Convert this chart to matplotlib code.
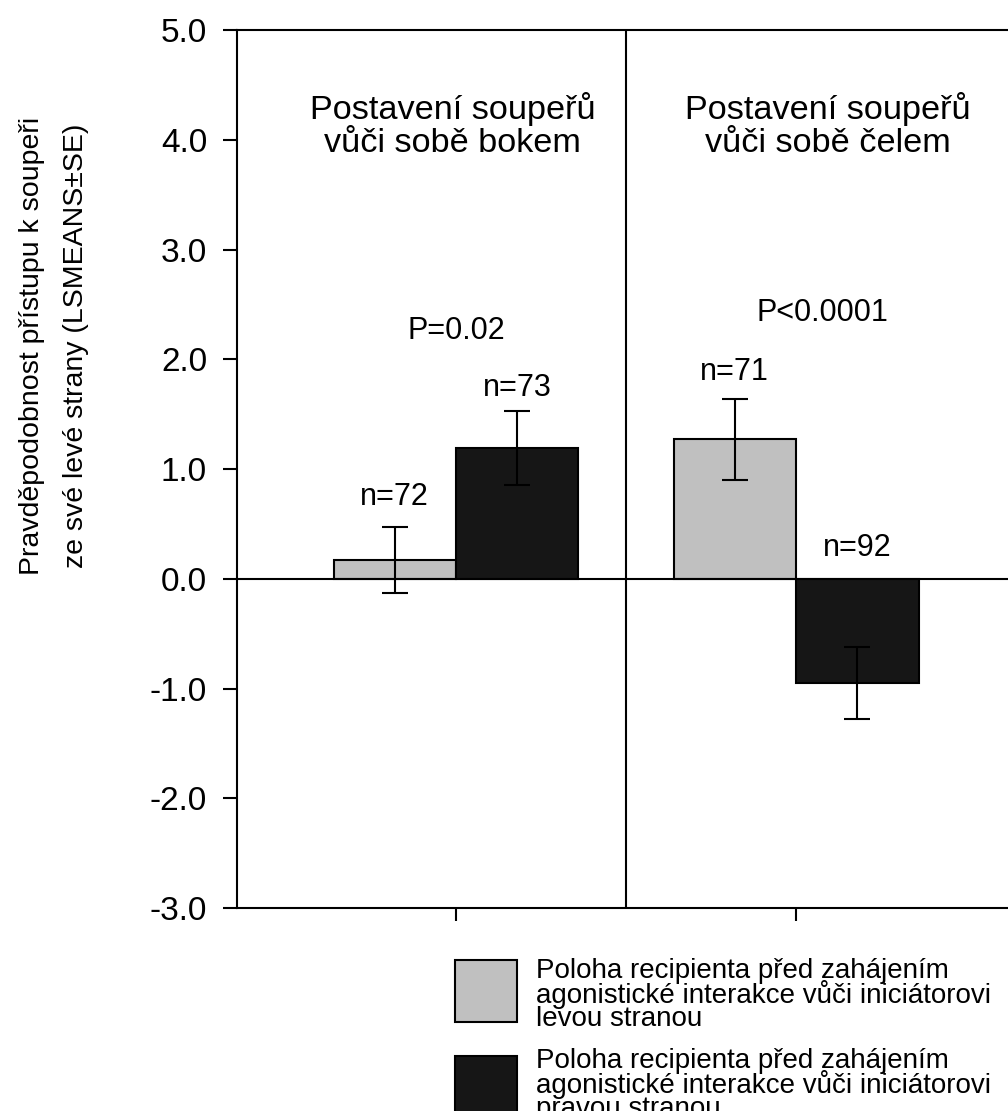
import numpy as np
import matplotlib
matplotlib.use("Agg")
import matplotlib.pyplot as plt
from matplotlib.patches import Rectangle

plt.rcParams['font.family'] = ['Liberation Sans', 'DejaVu Sans']
plt.rcParams['axes.unicode_minus'] = False

# LSMEANS +- SE for the two opponent positions
groups = ['Postavení soupeřů\nvůči sobě bokem', 'Postavení soupeřů\nvůči sobě čelem']
left_means = [0.17, 1.27]     # recipient on the left side
left_se = [0.30, 0.37]
right_means = [1.19, -0.95]   # recipient on the right side
right_se = [0.335, 0.325]
left_n = ['n=72', 'n=71']
right_n = ['n=73', 'n=92']
p_values = ['P=0.02', 'P<0.0001']
legend_labels = ['Poloha recipienta před zahájením\nagonistické interakce vůči iniciátorovi\nlevou stranou',
                 'Poloha recipienta před zahájením\nagonistické interakce vůči iniciátorovi\npravou stranou']

fig = plt.figure(figsize=(10.08, 11.11), dpi=100)
ax = fig.add_axes([0.2351, 0.1827, 0.772, 0.7903])

x = np.array([1, 2])
w = 0.36
gray = '#c0c0c0'
black = '#161616'
err_kw = dict(ecolor='black', elinewidth=1.5, capsize=9.5, capthick=1.5)

ax.bar(x - w / 2, left_means, w, yerr=left_se, color=gray, edgecolor='black',
       linewidth=1.5, error_kw=err_kw, zorder=2)
ax.bar(x + w / 2, right_means, w, yerr=right_se, color=black, edgecolor='black',
       linewidth=1.5, error_kw=err_kw, zorder=2)

ax.axhline(0, color='black', linewidth=1.5, zorder=3)
ax.axvline(1.5, color='black', linewidth=1.5, zorder=3)

# group headings and test results
ax.text(0.99, 4.13, groups[0], ha='center', va='center', fontsize=24.7, linespacing=1.1)
ax.text(2.094, 4.13, groups[1], ha='center', va='center', fontsize=24.7, linespacing=1.1)
ax.text(1.0, 2.26, p_values[0], ha='center', va='center', fontsize=22)
ax.text(2.076, 2.42, p_values[1], ha='center', va='center', fontsize=22)

# sample sizes above the bars
left_n_y = [0.745, 1.88]
right_n_y = [1.74, 0.28]
for i in range(2):
    ax.text(x[i] - w / 2, left_n_y[i], left_n[i], ha='center', va='center', fontsize=22)
    ax.text(x[i] + w / 2, right_n_y[i], right_n[i], ha='center', va='center', fontsize=22)

ax.set_xlim(0.356, 2.644)
ax.set_ylim(-3, 5)
ax.set_yticks(np.arange(-3, 5.1, 1))
ax.set_yticklabels(['%.1f' % v for v in np.arange(-3, 5.1, 1)])
ax.set_xticks(x)
ax.set_xticklabels(['', ''])
ax.tick_params(axis='y', direction='out', length=10, width=1.5, pad=11.5, labelsize=24)
ax.tick_params(axis='x', direction='out', length=9, width=1.5)
for s in ['left', 'top', 'bottom']:
    ax.spines[s].set_linewidth(1.5)
ax.spines['right'].set_visible(False)

fig.text(0.054, 0.689,
         'Pravděpodobnost přístupu k soupeři\nze své levé strany (LSMEANS±SE)',
         rotation=90, ha='center', va='center', fontsize=20.5, linespacing=1.9)

# legend drawn by hand below the axes
W, H = 1008, 1111
patch_colors = [gray, black]
patch_tops = [960, 1056]
text_offsets = [35, 29]
for c, top, off, lab in zip(patch_colors, patch_tops, text_offsets, legend_labels):
    fig.add_artist(Rectangle((455 / W, 1 - (top + 62) / H), 62 / W, 62 / H,
                             facecolor=c, edgecolor='black', linewidth=1.5,
                             transform=fig.transFigure))
    fig.text(536 / W, 1 - (top + off) / H, lab, ha='left', va='center',
             fontsize=20, linespacing=0.82)

fig.savefig('out.png', dpi=100)
